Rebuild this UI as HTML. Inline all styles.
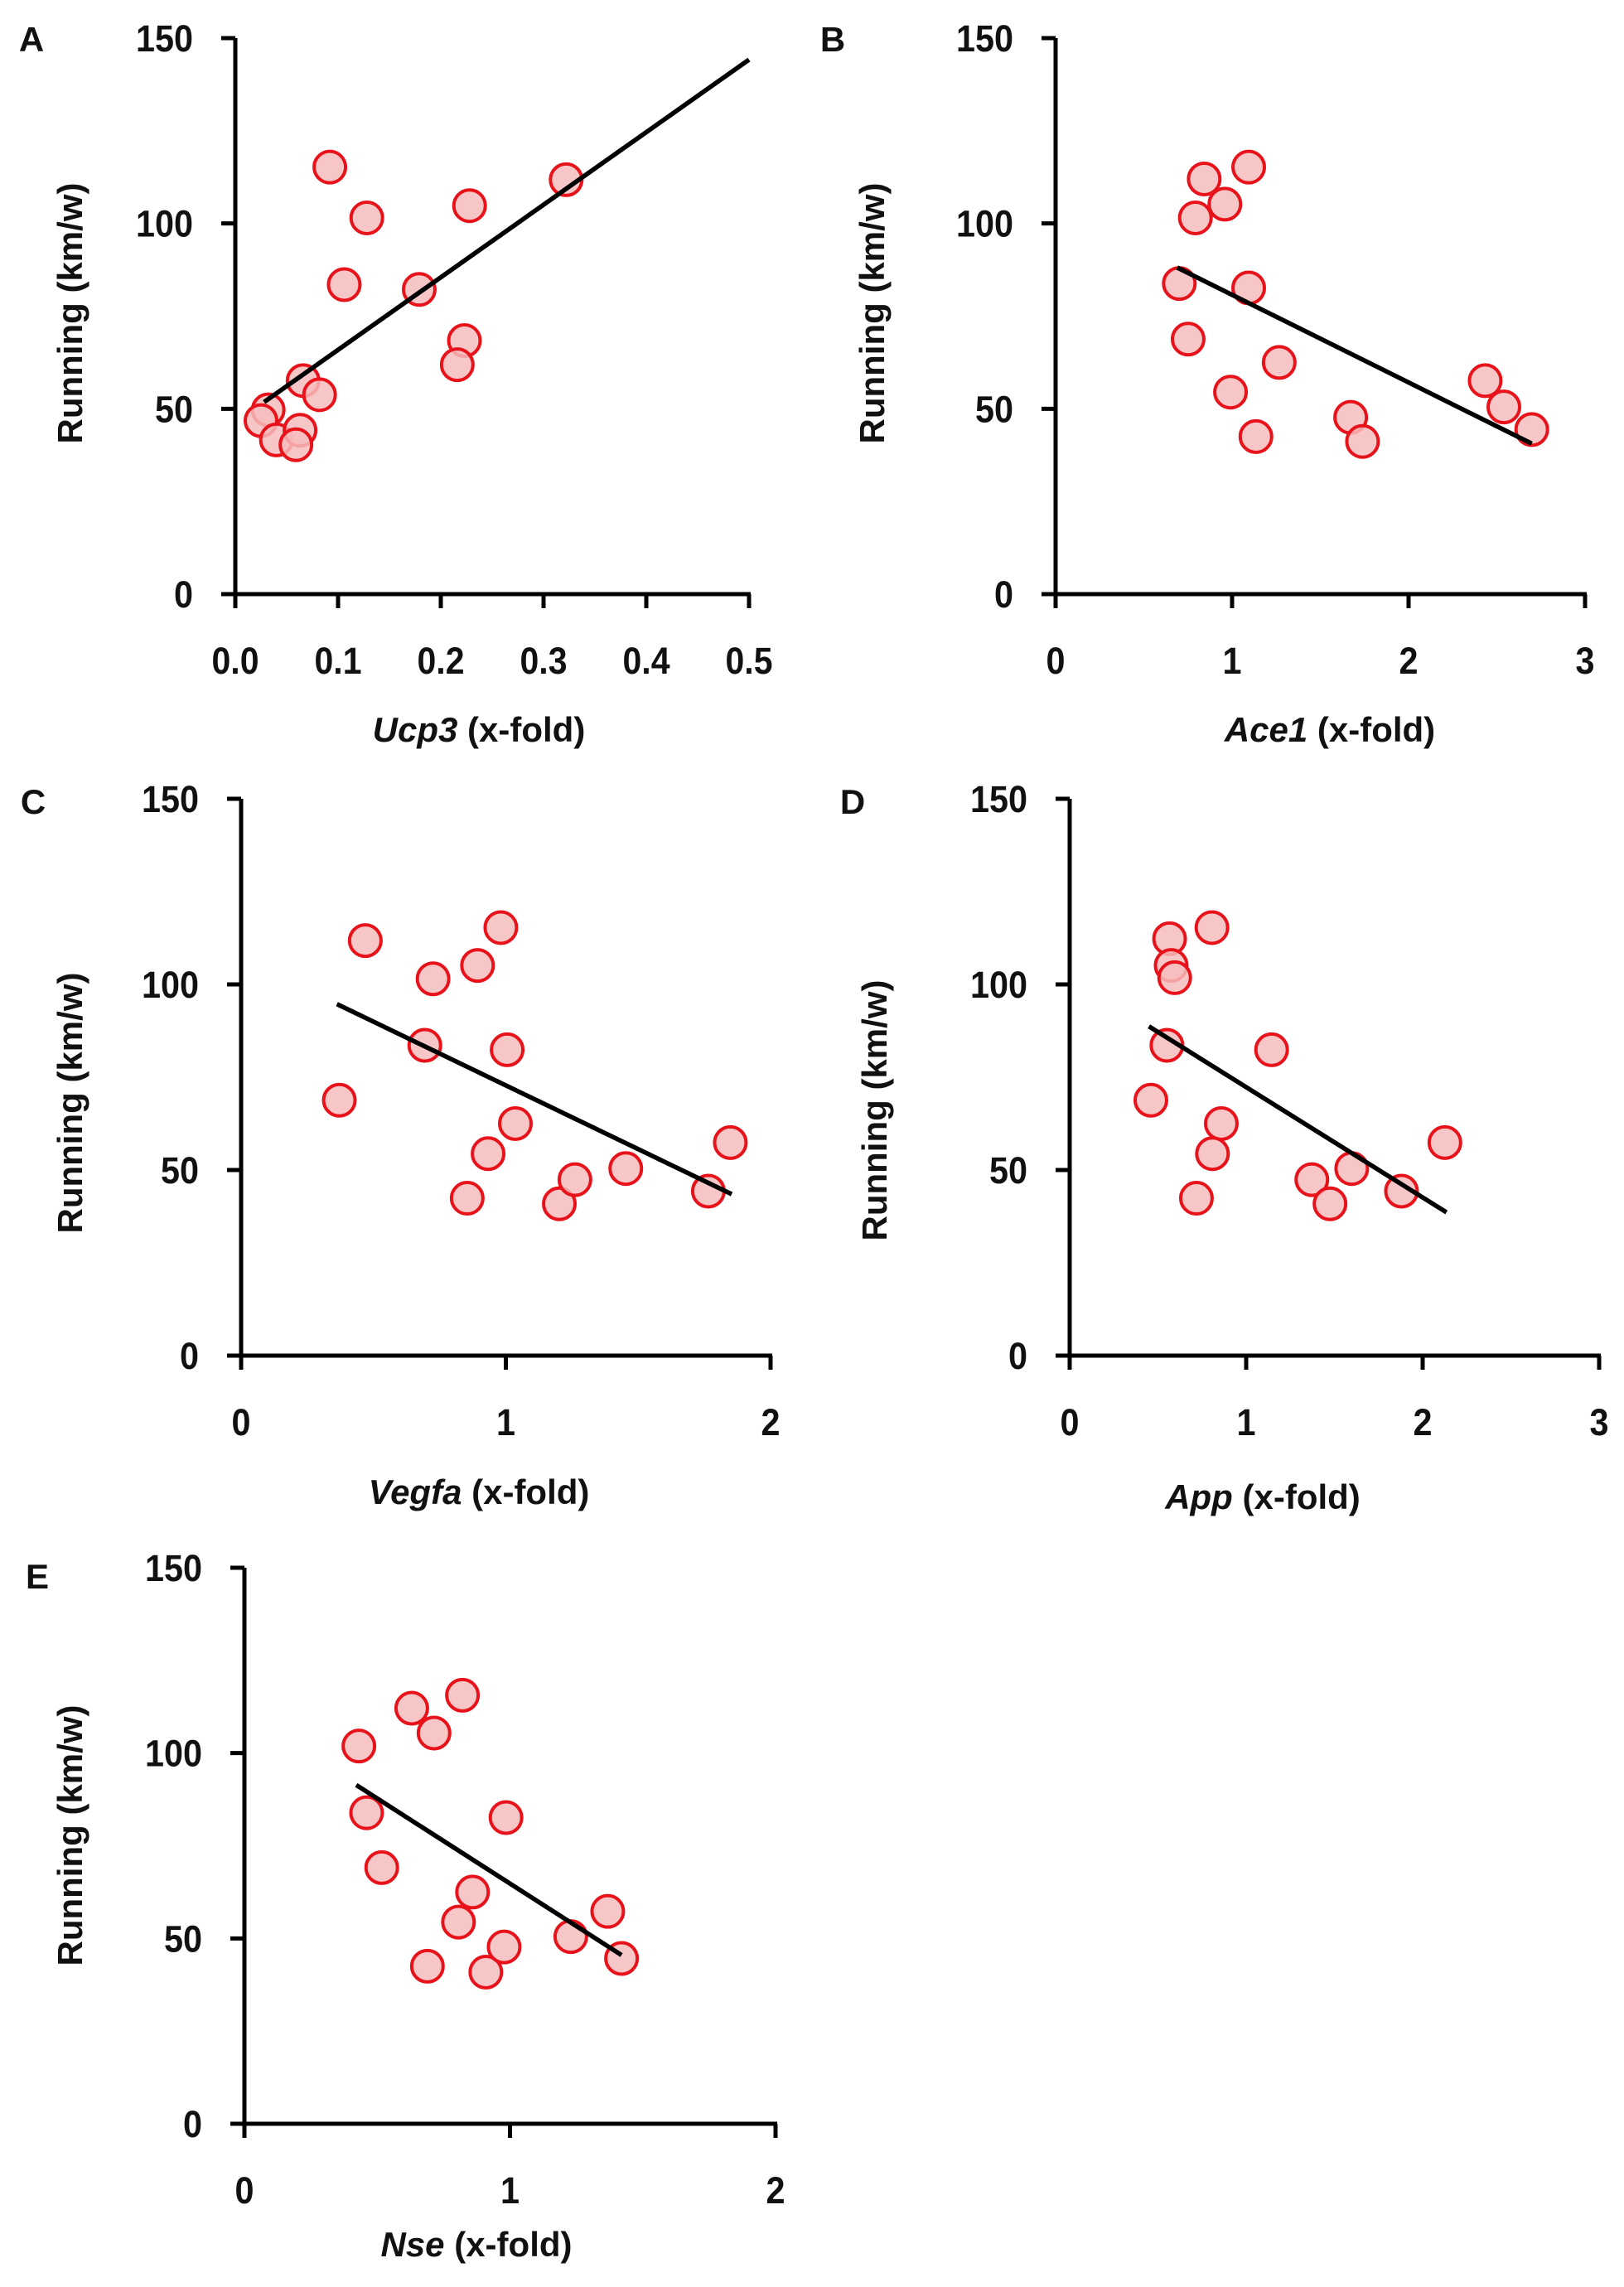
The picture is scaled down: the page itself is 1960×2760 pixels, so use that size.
<!DOCTYPE html>
<html><head><meta charset="utf-8"><style>
html,body{margin:0;padding:0;background:#fff;}
svg{display:block;}
text{font-family:"Liberation Sans",Arial,sans-serif;fill:#111;}
</style></head>
<body>
<svg id="fig" width="1960" height="2760" viewBox="0 0 1960 2760" xmlns="http://www.w3.org/2000/svg"></svg>
<script>
// Panel A: Ucp3
const ucp3X = [0.092,0.128,0.228,0.322,0.106,0.179,0.223,0.216,0.066,0.082,0.032,0.025,0.040,0.063,0.059];
const ucp3Y = [115.2,101.5,104.8,111.8,83.5,82.2,68.4,61.9,57.6,53.8,49.7,46.8,41.6,44.2,40.3];
const ucp3Fit = [[0.028,51.8],[0.5,144.2]];
const ucp3Ticks = ["0.0","0.1","0.2","0.3","0.4","0.5"];
// Panel B: Ace1
const ace1X = [1.094,0.842,0.959,0.792,0.701,1.094,0.751,1.267,0.991,1.135,1.672,1.739,2.434,2.540,2.698];
const ace1Y = [115.2,112.0,105.2,101.5,83.8,82.6,68.8,62.5,54.5,42.5,47.7,41.2,57.6,50.5,44.4];
const ace1Fit = [[0.689,88.1],[2.698,40.6]];
const ace1Ticks = ["0","1","2","3"];
// Panel C: Vegfa
const vegfaX = [0.469,0.981,0.893,0.725,0.694,1.005,0.371,1.036,0.933,0.854,1.202,1.261,1.453,1.765,1.848];
const vegfaY = [111.8,115.3,105.1,101.5,83.6,82.4,68.8,62.5,54.4,42.4,40.9,47.4,50.4,44.3,57.4];
const vegfaFit = [[0.362,94.7],[1.853,43.5]];
const vegfaTicks = ["0","1","2"];
// Panel D: App
const appX = [0.806,0.566,0.575,0.595,0.551,1.144,0.460,0.859,0.809,0.718,1.372,1.475,1.598,1.880,2.126];
const appY = [115.3,112.3,105.1,101.8,83.6,82.4,68.8,62.5,54.4,42.4,47.4,40.9,50.4,44.3,57.4];
const appFit = [[0.449,88.7],[2.135,38.6]];
const appTicks = ["0","1","2","3"];
// Panel E: Nse
const nseX = [0.821,0.630,0.714,0.431,0.460,0.985,0.517,0.859,0.806,0.689,0.909,0.978,1.229,1.368,1.420];
const nseY = [115.6,112.1,105.4,101.9,83.9,82.6,69.1,62.5,54.4,42.5,40.9,47.7,50.5,57.3,44.6];
const nseFit = [[0.421,91.4],[1.420,45.5]];
const nseTicks = ["0","1","2"];
const yTicks = ["0","50","100","150"];

const NS = "http://www.w3.org/2000/svg";
const svg = document.getElementById('fig');
function mk(tag, attrs, parent){
  const e = document.createElementNS(NS, tag);
  for (const k in attrs) e.setAttribute(k, attrs[k]);
  (parent||svg).appendChild(e);
  return e;
}
function tlen(t){ let w=0; for (const ch of t) w += (ch==='.') ? 11 : 23; return w; }

function panel(p){
  const g = mk('g', {});
  
  
  const xmax = parseFloat(p.ticks[p.ticks.length-1]);
  const sx = v => p.x0 + (v / xmax) * (p.x1 - p.x0);
  const sy = v => p.y0 - (v / 150) * (p.y0 - p.y150);
  const ya = mk('line', {x1:p.x0, y1:p.y150, x2:p.x0, y2:p.y0+2, stroke:'#000','stroke-width':5}, g);
  
  
  const xa = mk('line', {x1:p.x0-2, y1:p.y0, x2:p.x1+2, y2:p.y0, stroke:'#000','stroke-width':5}, g);
  
  
  yTicks.forEach(t => {
    const y = sy(parseFloat(t));
    const tk = mk('line', {x1:p.x0-17, y1:y, x2:p.x0, y2:y, stroke:'#000','stroke-width':5}, g);
    
    
    const tl = mk('text', {x:p.x0-51, y:y+16, 'text-anchor':'end', 'font-size':45, 'font-weight':'bold', textLength:tlen(t), lengthAdjust:'spacingAndGlyphs'}, g);
    tl.textContent = t;
    
    
  });
  p.ticks.forEach(t => {
    const x = sx(parseFloat(t));
    const tk = mk('line', {x1:x, y1:p.y0, x2:x, y2:p.y0+17, stroke:'#000','stroke-width':5}, g);
    
    
    const tl = mk('text', {x:x, y:p.y0+96, 'text-anchor':'middle', 'font-size':45, 'font-weight':'bold', textLength:tlen(t), lengthAdjust:'spacingAndGlyphs'}, g);
    tl.textContent = t;
    
    
  });
  p.xs.forEach((xv, i) => {
    const c = mk('circle', {cx:sx(xv), cy:sy(p.ys[i]), r:19, fill:'#f6bcbc', 'fill-opacity':0.85, stroke:'#e8121a', 'stroke-width':4}, g);
    
    
  });
  const f = mk('line', {x1:sx(p.fit[0][0]), y1:sy(p.fit[0][1]), x2:sx(p.fit[1][0]), y2:sy(p.fit[1][1]), stroke:'#000','stroke-width':5.5}, g);
  
  
  const yt = mk('text', {x:0, y:0, 'text-anchor':'middle', 'font-size':42, 'font-weight':'bold', transform:`translate(${p.ytx},${p.yty}) rotate(-90)`, dy:15}, g);
  yt.textContent = 'Running (km/w)';
  
  
  const xt = mk('text', {x:p.xtx, y:p.xty, 'text-anchor':'middle', 'font-size':42, 'font-weight':'bold'}, g);
  const it = mk('tspan', {'font-style':'italic'}, xt);
  it.textContent = p.gene;
  const rest = mk('tspan', {}, xt);
  rest.textContent = ' (x-fold)';
  
  
  const lt = mk('text', {x:p.lx, y:p.ly+15, 'text-anchor':'middle', 'font-size':42, 'font-weight':'bold'}, g);
  lt.textContent = p.letter;
  
  
}

panel({letter:'A', gene:'Ucp3', xs:ucp3X, ys:ucp3Y, fit:ucp3Fit, ticks:ucp3Ticks,
  x0:284, x1:904, y0:717, y150:46, ytx:84, yty:378, xtx:578, xty:895, lx:38, ly:47});
panel({letter:'B', gene:'Ace1', xs:ace1X, ys:ace1Y, fit:ace1Fit, ticks:ace1Ticks,
  x0:1274, x1:1913, y0:717, y150:46, ytx:1052, yty:378, xtx:1605, xty:895, lx:1005, ly:47});
panel({letter:'C', gene:'Vegfa', xs:vegfaX, ys:vegfaY, fit:vegfaFit, ticks:vegfaTicks,
  x0:291, x1:930, y0:1636, y150:964, ytx:84, yty:1331, xtx:578, xty:1815, lx:40, ly:967});
panel({letter:'D', gene:'App', xs:appX, ys:appY, fit:appFit, ticks:appTicks,
  x0:1291, x1:1930, y0:1636, y150:964, ytx:1055, yty:1340, xtx:1524, xty:1821, lx:1029, ly:967});
panel({letter:'E', gene:'Nse', xs:nseX, ys:nseY, fit:nseFit, ticks:nseTicks,
  x0:295, x1:936, y0:2563, y150:1892, ytx:84, yty:2215, xtx:575, xty:2723, lx:45, ly:1902});
</script>
</body></html>
